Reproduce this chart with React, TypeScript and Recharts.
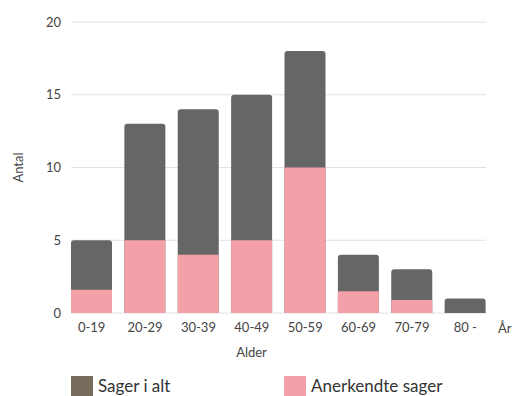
import { Bar, BarChart, CartesianGrid, Label, XAxis, YAxis } from "recharts";

const ageGroups = ["0-19", "20-29", "30-39", "40-49", "50-59", "60-69", "70-79", "80 -"];
const totalCases = [5, 13, 14, 15, 18, 4, 3, 1];
const recognisedCases = [1.6, 5, 4, 5, 10, 1.5, 0.9, 0];
const yTicks = [0, 5, 10, 15, 20];

const data = ageGroups.map((group, i) => ({
  group,
  total: totalCases[i],
  recognised: recognisedCases[i],
}));

const FONT = "Lato, 'Open Sans', sans-serif";
const DARK = "#666666";
const PINK = "#f4a0a8";

function LegendItem({ color, label, left }: { color: string; label: string; left: number }) {
  return (
    <div style={{ position: "absolute", left, top: 376, display: "flex", alignItems: "flex-start" }}>
      <div style={{ width: 22, height: 22, background: color }} />
      <span style={{ marginLeft: 5, fontSize: 17, color: "#333", lineHeight: "19px", fontFamily: FONT }}>
        {label}
      </span>
    </div>
  );
}

export default function App() {
  return (
    <div style={{ position: "absolute", left: 0, top: 0, width: 512, height: 396, overflow: "hidden", background: "#fff" }}>
      <BarChart
        width={512}
        height={370}
        data={data}
        margin={{ top: 22, right: 26, left: 0, bottom: 0 }}
        barSize={41}
        barGap={-41}
      >
        <CartesianGrid vertical={false} stroke="#e2e2e2" />
        <XAxis
          dataKey="group"
          height={57}
          axisLine={false}
          tickLine={false}
          padding={{ left: -6, right: -6 }}
          tick={{ fill: "#444", fontSize: 13, fontFamily: FONT }}
          tickMargin={4}
        >
          <Label value="Alder" position="insideBottom" offset={13} dx={-27} style={{ fill: "#444", fontSize: 13, fontFamily: FONT }} />
          <Label value="År" position="right" offset={12} dy={-13} style={{ fill: "#444", fontSize: 13, fontFamily: FONT }} />
        </XAxis>
        <YAxis
          width={71}
          domain={[0, 20]}
          ticks={yTicks}
          axisLine={false}
          tickLine={false}
          tickMargin={4}
          tick={{ fill: "#444", fontSize: 13, fontFamily: FONT }}
        >
          <Label
            value="Antal"
            angle={-90}
            position="insideLeft"
            offset={18}
            style={{ fill: "#444", fontSize: 13, fontFamily: FONT, textAnchor: "middle" }}
          />
        </YAxis>
        <Bar dataKey="total" name="Sager i alt" fill={DARK} radius={[3, 3, 0, 0]} isAnimationActive={false} />
        <Bar dataKey="recognised" name="Anerkendte sager" fill={PINK} isAnimationActive={false} />
      </BarChart>
      <LegendItem color="#776b5d" label="Sager i alt" left={71} />
      <LegendItem color={PINK} label="Anerkendte sager" left={284} />
    </div>
  );
}
